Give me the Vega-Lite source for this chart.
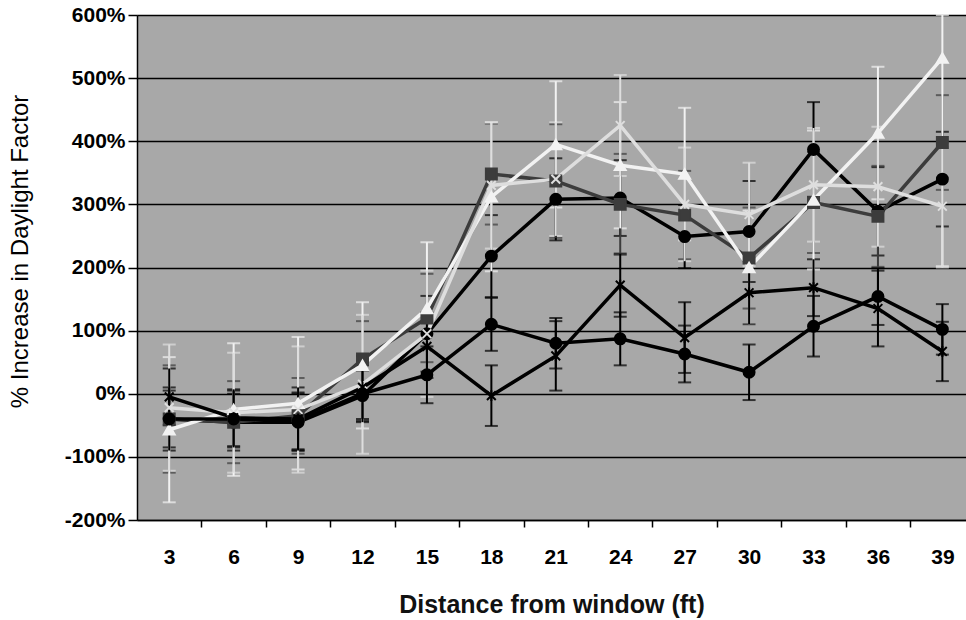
{
  "$schema": "https://vega.github.io/schema/vega-lite/v6.json",
  "autosize": {"type": "none"},
  "width": 829,
  "height": 505,
  "padding": {"left": 137, "top": 15, "right": 0, "bottom": 100},
  "background": "white",
  "config": {
    "view": {"fill": "#a8a8a8", "stroke": null},
    "font": "Liberation Sans"
  },
  "data": {"values": [
    {"s":"S1","x":3,"v":-40,"e":45},{"s":"S1","x":6,"v":-45,"e":45},{"s":"S1","x":9,"v":-45,"e":45},{"s":"S1","x":12,"v":-3,"e":40},{"s":"S1","x":15,"v":95,"e":60},{"s":"S1","x":18,"v":218,"e":65},{"s":"S1","x":21,"v":308,"e":65},{"s":"S1","x":24,"v":310,"e":60},{"s":"S1","x":27,"v":249,"e":50},{"s":"S1","x":30,"v":257,"e":80},{"s":"S1","x":33,"v":387,"e":75},{"s":"S1","x":36,"v":289,"e":70},{"s":"S1","x":39,"v":340,"e":75},
    {"s":"S2","x":3,"v":-40,"e":85},{"s":"S2","x":6,"v":-45,"e":65},{"s":"S2","x":9,"v":-35,"e":60},{"s":"S2","x":12,"v":55,"e":60},{"s":"S2","x":15,"v":120,"e":70},{"s":"S2","x":18,"v":348,"e":80},{"s":"S2","x":21,"v":337,"e":90},{"s":"S2","x":24,"v":300,"e":80},{"s":"S2","x":27,"v":283,"e":70},{"s":"S2","x":30,"v":215,"e":80},{"s":"S2","x":33,"v":303,"e":80},{"s":"S2","x":36,"v":281,"e":80},{"s":"S2","x":39,"v":398,"e":75},
    {"s":"S3","x":3,"v":-57,"e":115},{"s":"S3","x":6,"v":-25,"e":105},{"s":"S3","x":9,"v":-15,"e":105},{"s":"S3","x":12,"v":45,"e":100},{"s":"S3","x":15,"v":135,"e":105},{"s":"S3","x":18,"v":312,"e":118},{"s":"S3","x":21,"v":395,"e":100},{"s":"S3","x":24,"v":362,"e":100},{"s":"S3","x":27,"v":348,"e":105},{"s":"S3","x":30,"v":200,"e":90},{"s":"S3","x":33,"v":307,"e":110},{"s":"S3","x":36,"v":413,"e":105},{"s":"S3","x":39,"v":532,"e":330},
    {"s":"S4","x":3,"v":-22,"e":100},{"s":"S4","x":6,"v":-30,"e":95},{"s":"S4","x":9,"v":-25,"e":100},{"s":"S4","x":12,"v":15,"e":110},{"s":"S4","x":15,"v":95,"e":100},{"s":"S4","x":18,"v":330,"e":100},{"s":"S4","x":21,"v":340,"e":90},{"s":"S4","x":24,"v":425,"e":80},{"s":"S4","x":27,"v":300,"e":90},{"s":"S4","x":30,"v":284,"e":82},{"s":"S4","x":33,"v":331,"e":90},{"s":"S4","x":36,"v":328,"e":95},{"s":"S4","x":39,"v":297,"e":97},
    {"s":"S5","x":3,"v":-5,"e":45},{"s":"S5","x":6,"v":-38,"e":45},{"s":"S5","x":9,"v":-40,"e":50},{"s":"S5","x":12,"v":10,"e":50},{"s":"S5","x":15,"v":75,"e":50},{"s":"S5","x":18,"v":-3,"e":48},{"s":"S5","x":21,"v":60,"e":55},{"s":"S5","x":24,"v":172,"e":50},{"s":"S5","x":27,"v":89,"e":56},{"s":"S5","x":30,"v":160,"e":50},{"s":"S5","x":33,"v":168,"e":45},{"s":"S5","x":36,"v":135,"e":60},{"s":"S5","x":39,"v":67,"e":47},
    {"s":"S6","x":3,"v":-40,"e":50},{"s":"S6","x":6,"v":-40,"e":45},{"s":"S6","x":9,"v":-43,"e":45},{"s":"S6","x":12,"v":0,"e":45},{"s":"S6","x":15,"v":30,"e":45},{"s":"S6","x":18,"v":110,"e":42},{"s":"S6","x":21,"v":80,"e":40},{"s":"S6","x":24,"v":87,"e":42},{"s":"S6","x":27,"v":63,"e":45},{"s":"S6","x":30,"v":34,"e":44},{"s":"S6","x":33,"v":107,"e":48},{"s":"S6","x":36,"v":154,"e":45},{"s":"S6","x":39,"v":102,"e":40}
  ]},
  "encoding": {
    "x": {
      "field": "x", "type": "quantitative",
      "scale": {"domain": [1.5, 40.1], "nice": false, "zero": false},
      "axis": {
        "values": [3,6,9,12,15,18,21,24,27,30,33,36,39],
        "tickOffset": 32.2, "labelOffset": -32.2,
        "grid": false,
        "domainColor": "black", "domainWidth": 1.5,
        "tickColor": "black", "tickWidth": 1.5, "tickSize": 7,
        "labelFont": "Liberation Sans", "labelFontWeight": "bold", "labelFontSize": 21, "labelColor": "black",
        "labelPadding": 19, "labelFlush": false, "labelOverlap": false,
        "title": "Distance from window (ft)",
        "titleFont": "Liberation Sans", "titleFontWeight": "bold", "titleFontSize": 25, "titleColor": "#111111",
        "titleX": 414.5, "titleY": 84, "titleBaseline": "middle", "titleAlign": "center"
      }
    },
    "y": {
      "field": "v", "type": "quantitative",
      "scale": {"domain": [-200, 600], "nice": false, "clamp": true},
      "axis": {
        "values": [-200,-100,0,100,200,300,400,500,600],
        "labelExpr": "datum.value + '%'",
        "grid": true, "gridColor": "black", "gridWidth": 1.5,
        "domainColor": "black", "domainWidth": 1.5,
        "tickColor": "black", "tickWidth": 1.5, "tickSize": 9,
        "labelFont": "Liberation Sans", "labelFontWeight": "bold", "labelFontSize": 21, "labelColor": "black",
        "labelPadding": 3, "labelFlush": false, "labelOverlap": false,
        "title": "% Increase in Daylight Factor",
        "titleFont": "Liberation Sans", "titleFontWeight": "normal", "titleFontSize": 24, "titleColor": "black",
        "titleAngle": -90, "titleX": -117, "titleY": 236, "titleBaseline": "middle", "titleAlign": "center"
      }
    }
  },
  "layer": [
    {
      "mark": {"type": "errorbar", "ticks": {"size": 13, "thickness": 2}, "rule": {"strokeWidth": 2}},
      "encoding": {
        "yError": {"field": "e"},
        "color": {"field": "s", "type": "nominal", "legend": null,
          "scale": {"domain": ["S1","S2","S3","S4","S5","S6"], "range": ["#000000","#3c3c3c","#f2f2f2","#dedede","#000000","#000000"]}}
      }
    },
    {
      "mark": {"type": "line", "strokeWidth": 3.5},
      "encoding": {
        "color": {"field": "s", "type": "nominal", "legend": null,
          "scale": {"domain": ["S1","S2","S3","S4","S5","S6"], "range": ["#000000","#3c3c3c","#f2f2f2","#dedede","#000000","#000000"]}}
      }
    },
    {
      "mark": {"type": "point", "filled": true, "strokeWidth": 2, "opacity": 1},
      "encoding": {
        "fill": {"field": "s", "type": "nominal", "legend": null,
          "scale": {"domain": ["S1","S2","S3","S4","S5","S6"], "range": ["#000000","#3c3c3c","#f2f2f2","#dedede","#000000","#000000"]}},
        "stroke": {"field": "s", "type": "nominal", "legend": null,
          "scale": {"domain": ["S1","S2","S3","S4","S5","S6"], "range": ["#000000","#3c3c3c","#f2f2f2","#dedede","#000000","#000000"]}},
        "shape": {"field": "s", "type": "nominal", "legend": null,
          "scale": {"domain": ["S1","S2","S3","S4","S5","S6"], "range": ["circle","square","triangle-up","M-0.8,-0.8L0.8,0.8M-0.8,0.8L0.8,-0.8","M-0.8,-0.8L0.8,0.8M-0.8,0.8L0.8,-0.8M0,-1L0,1","circle"]}},
        "size": {"value": 120}
      }
    }
  ]
}
